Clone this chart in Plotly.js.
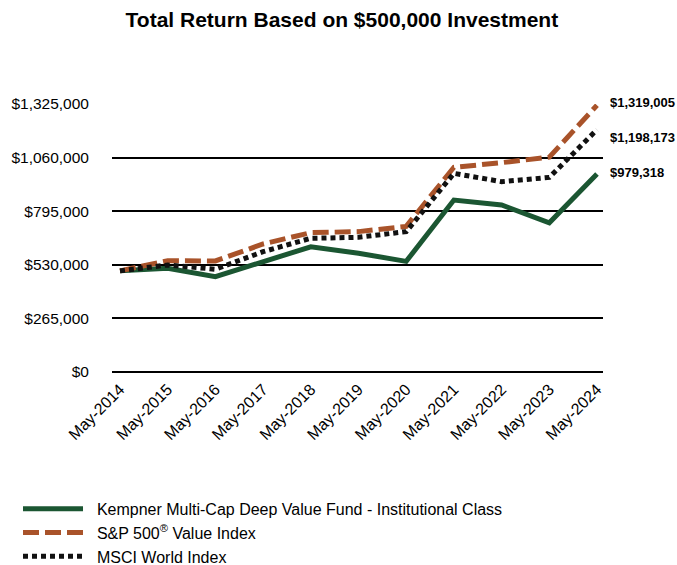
<!DOCTYPE html>
<html>
<head>
<meta charset="utf-8">
<script src="https://cdn.plot.ly/plotly-3.0.1.min.js"></script>
<style>
  html, body { margin: 0; padding: 0; background: #ffffff; }
  #chart { width: 677px; height: 565px; }
</style>
</head>
<body>
<div id="chart"></div>
<script>
// ---- Data ----
const periods = ["May-2014", "May-2015", "May-2016", "May-2017", "May-2018", "May-2019",
                 "May-2020", "May-2021", "May-2022", "May-2023", "May-2024"];

const fundName = "Kempner Multi-Cap Deep Value Fund - Institutional Class";
const fundValues = [500000, 513000, 471000, 543000, 619000, 587000, 547000, 850000, 826000, 738000, 979318];

const spName = "S&P 500<sup>®</sup> Value Index";
const spValues = [500000, 550000, 549000, 633000, 689000, 694000, 720000, 1012000, 1035000, 1062000, 1319005];

const msciName = "MSCI World Index";
const msciValues = [500000, 529000, 508000, 595000, 661000, 666000, 694000, 982000, 941000, 962000, 1198173];

const yTicks = [0, 265000, 530000, 795000, 1060000, 1325000];

// ---- Styling ----
const FONT = "Arial, 'Liberation Sans', sans-serif";
const GREEN = "#1b5632";
const ORANGE = "#a9532a";
const BLACK = "#111111";
const GAP = "\u00a0\u00a0"; // small gap between legend sample and its text

const fmt = v => "$" + Math.round(v).toLocaleString("en-US");

const traces = [
  { x: periods, y: fundValues, name: GAP + fundName, type: "scatter", mode: "lines",
    line: { color: GREEN, width: 5 }, hoverinfo: "skip" },
  { x: periods, y: spValues, name: GAP + spName, type: "scatter", mode: "lines",
    line: { color: ORANGE, width: 5, dash: "16px,6px" }, hoverinfo: "skip" },
  { x: periods, y: msciValues, name: GAP + msciName, type: "scatter", mode: "lines",
    line: { color: BLACK, width: 5, dash: "5px,4px" }, hoverinfo: "skip" }
];

const last = periods.length - 1;
const endLabels = [
  { v: spValues[last], shift: 3 },
  { v: msciValues[last], shift: -8 },
  { v: fundValues[last], shift: 1 }
].map(o => ({
  x: periods[last], y: o.v, xref: "x", yref: "y",
  text: "<b>" + fmt(o.v) + "</b>", showarrow: false,
  xanchor: "left", yanchor: "middle", xshift: 11, yshift: o.shift,
  font: { family: FONT, size: 13, color: "#000000" }
}));

const layout = {
  width: 677, height: 565,
  paper_bgcolor: "#ffffff", plot_bgcolor: "#ffffff",
  margin: { l: 10, r: 74, t: 104, b: 10, pad: 0, autoexpand: false },
  title: {
    text: "<b>Total Return Based on $500,000 Investment</b>",
    font: { family: FONT, size: 21, color: "#000000" },
    x: 0.505, xanchor: "center", xref: "container",
    y: 0.965, yanchor: "middle", yref: "container"
  },
  font: { family: FONT, color: "#000000" },
  showlegend: true,
  legend: {
    orientation: "v",
    x: 0.0135, xanchor: "left",
    y: 0.14, yanchor: "top",
    font: { family: FONT, size: 16, color: "#000000" },
    itemwidth: 60,
    tracegroupgap: 0,
    bgcolor: "rgba(0,0,0,0)"
  },
  xaxis: {
    type: "category",
    domain: [0.172, 1],
    range: [-0.168, 10.126],
    showgrid: false, zeroline: false, showline: false,
    ticks: "",
    ticklabelstandoff: 4,
    tickangle: -45,
    tickfont: { family: FONT, size: 16, color: "#000000" },
    fixedrange: true
  },
  yaxis: {
    domain: [0.4058, 1],
    range: [0, 1325000],
    tickvals: yTicks,
    ticktext: yTicks.map(fmt),
    showgrid: true, gridcolor: "#000000", gridwidth: 2,
    zeroline: true, zerolinecolor: "#000000", zerolinewidth: 2,
    showline: false, ticks: "",
    ticklabelstandoff: 22,
    tickfont: { family: FONT, size: 15.5, color: "#000000" },
    fixedrange: true
  },
  annotations: endLabels
};

Plotly.newPlot("chart", traces, layout, { displayModeBar: false, staticPlot: true });
</script>
</body>
</html>
